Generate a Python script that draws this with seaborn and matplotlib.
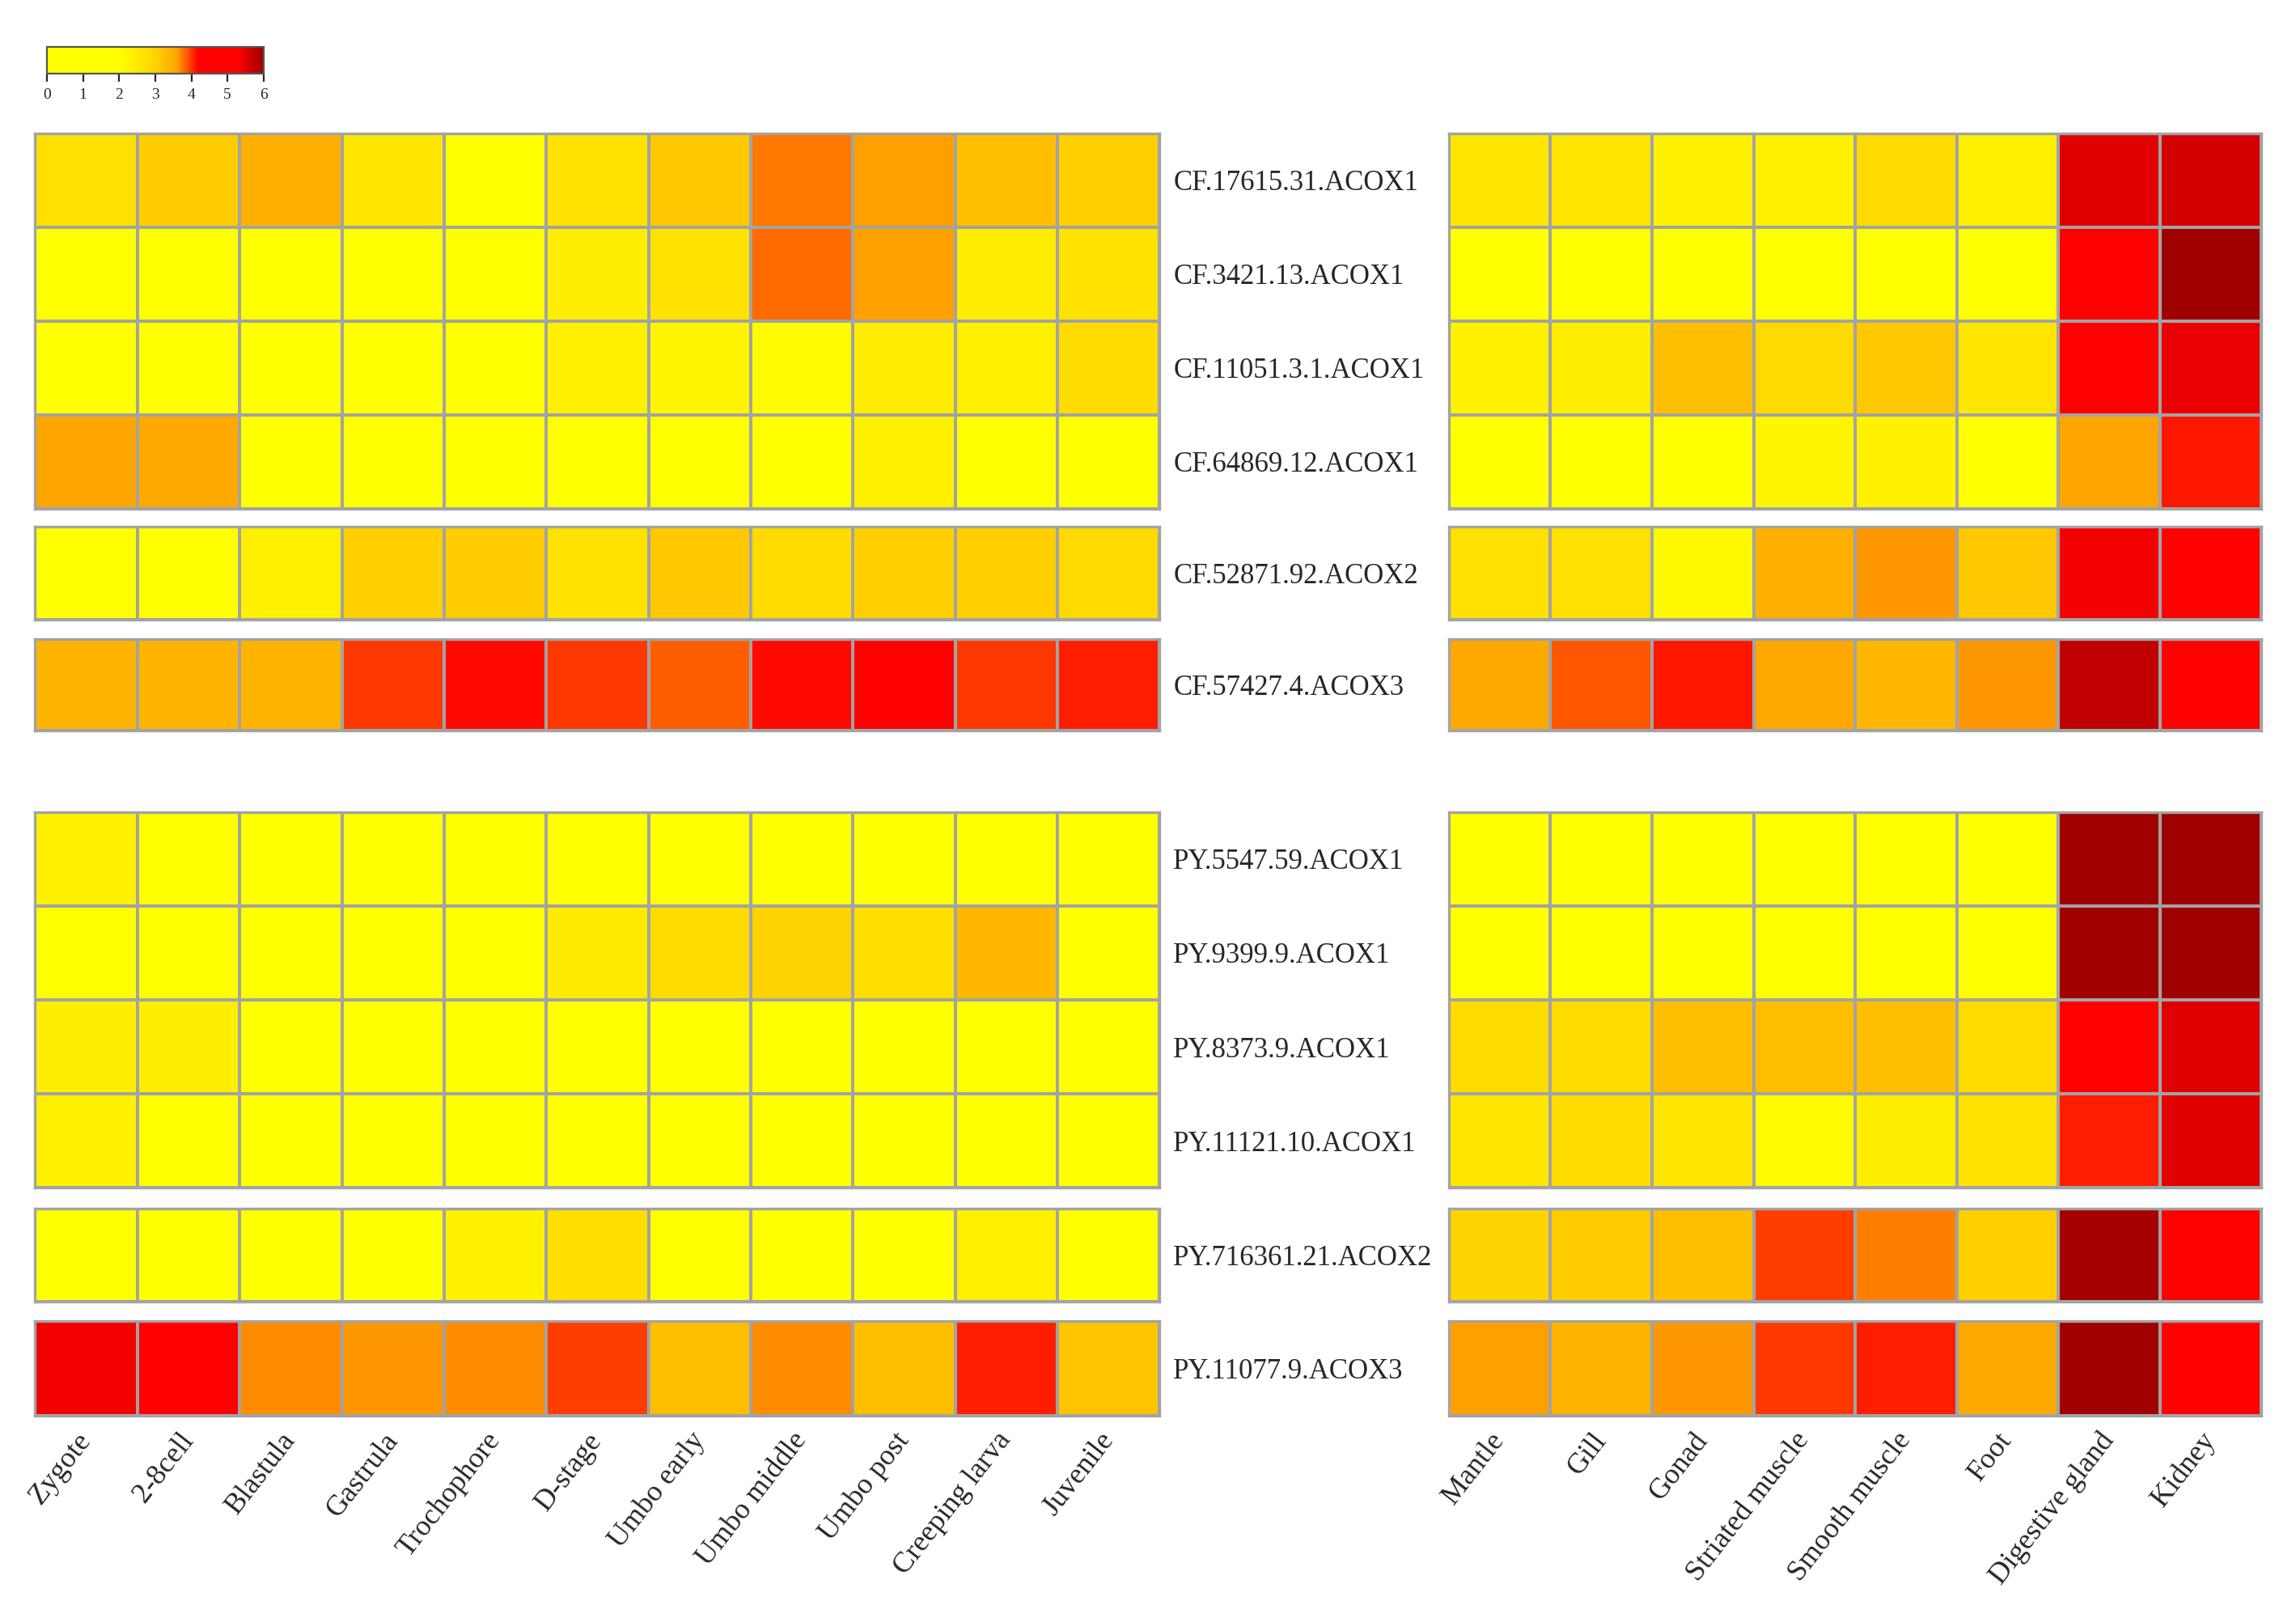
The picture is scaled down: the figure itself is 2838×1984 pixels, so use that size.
import numpy as np
import pandas as pd
import seaborn as sns
import matplotlib.pyplot as plt
from matplotlib.colors import LinearSegmentedColormap, Normalize

stages = ['Zygote', '2-8cell', 'Blastula', 'Gastrula', 'Trochophore', 'D-stage',
          'Umbo early', 'Umbo middle', 'Umbo post', 'Creeping larva', 'Juvenile']
tissues = ['Mantle', 'Gill', 'Gonad', 'Striated muscle', 'Smooth muscle', 'Foot',
           'Digestive gland', 'Kidney']

cf_genes = ['CF.17615.31.ACOX1', 'CF.3421.13.ACOX1', 'CF.11051.3.1.ACOX1',
            'CF.64869.12.ACOX1', 'CF.52871.92.ACOX2', 'CF.57427.4.ACOX3']
py_genes = ['PY.5547.59.ACOX1', 'PY.9399.9.ACOX1', 'PY.8373.9.ACOX1',
            'PY.11121.10.ACOX1', 'PY.716361.21.ACOX2', 'PY.11077.9.ACOX3']

# expression levels (0-6)
cf_stage = [
    [2.72, 3.10, 3.46, 2.58, 1.50, 2.68, 3.15, 3.75, 3.62, 3.26, 3.05],
    [1.20, 1.30, 1.10, 1.40, 1.50, 2.40, 2.68, 3.81, 3.62, 2.45, 2.68],
    [1.00, 1.20, 1.30, 1.50, 1.60, 2.35, 2.23, 2.10, 2.45, 2.35, 2.83],
    [3.60, 3.56, 1.00, 1.10, 1.30, 1.50, 1.40, 1.60, 2.35, 1.80, 1.50],
    [1.50, 1.70, 2.35, 3.05, 3.10, 2.68, 3.15, 2.83, 3.05, 3.05, 2.86],
    [3.40, 3.40, 3.40, 4.00, 4.16, 4.00, 3.85, 4.16, 4.50, 3.99, 4.10],
]
cf_tissue = [
    [2.58, 2.62, 2.30, 2.30, 2.86, 2.35, 5.53, 5.62],
    [1.20, 1.40, 1.30, 1.50, 1.60, 1.40, 5.00, 6.00],
    [2.30, 2.40, 3.26, 2.90, 3.15, 2.58, 5.10, 5.46],
    [1.00, 1.20, 1.50, 2.23, 2.30, 1.70, 3.60, 4.11],
    [2.72, 2.72, 2.15, 3.46, 3.64, 3.15, 5.39, 5.20],
    [3.56, 3.89, 4.12, 3.56, 3.36, 3.65, 5.76, 5.20],
]
py_stage = [
    [2.35, 1.90, 1.60, 1.50, 1.40, 1.30, 1.50, 1.60, 1.40, 1.70, 1.50],
    [1.20, 1.30, 1.50, 1.40, 1.60, 2.50, 2.83, 3.00, 2.78, 3.36, 1.60],
    [2.40, 2.40, 1.70, 1.50, 1.80, 1.40, 1.50, 1.30, 1.60, 1.70, 1.50],
    [2.35, 1.80, 1.60, 1.50, 1.40, 1.30, 1.40, 1.50, 1.60, 1.70, 1.80],
    [1.50, 1.60, 1.40, 1.70, 2.30, 2.78, 1.60, 1.50, 1.80, 2.35, 1.70],
    [5.37, 5.00, 3.69, 3.64, 3.70, 3.97, 3.28, 3.70, 3.26, 4.08, 3.20],
]
py_tissue = [
    [1.30, 1.50, 1.40, 1.60, 1.50, 1.20, 6.00, 6.00],
    [1.40, 1.20, 1.50, 1.30, 1.60, 1.40, 6.00, 6.00],
    [2.83, 2.83, 3.26, 3.30, 3.26, 2.83, 5.10, 5.53],
    [2.58, 2.83, 2.62, 2.10, 2.40, 2.68, 4.08, 5.51],
    [3.00, 3.10, 3.26, 3.97, 3.74, 3.05, 5.93, 5.30],
    [3.62, 3.40, 3.64, 3.99, 4.08, 3.55, 6.00, 5.20],
]

cmap = LinearSegmentedColormap.from_list('expr', [
    (0 / 6, '#FFFF00'), (2 / 6, '#FFFF00'), (3 / 6, '#FFD400'),
    (3.6 / 6, '#FFA500'), (4.2 / 6, '#FF0000'), (5.3 / 6, '#FF0000'),
    (1.0, '#A00000')])

sns.set_theme(style='white')
plt.rcParams['font.family'] = ['Liberation Serif', 'DejaVu Serif']

fig = plt.figure(figsize=(14.19, 9.92), dpi=200)

# block extents (top, bottom) in figure fractions, and which rows go in each
top_blocks = [(0.917, 0.683), (0.672, 0.614), (0.602, 0.545)]
bot_blocks = [(0.494, 0.260), (0.247, 0.189), (0.177, 0.118)]
row_slices = [(0, 4), (4, 5), (5, 6)]

left_x, left_w = 0.0153, 0.4898
right_x, right_w = 0.631, 0.354
grid_col = '#a3a3a3'

groups = [(cf_genes, cf_stage, cf_tissue, top_blocks, False),
          (py_genes, py_stage, py_tissue, bot_blocks, True)]

for genes, stage_vals, tissue_vals, blocks, last_group in groups:
    for k, ((top, bot), (r0, r1)) in enumerate(zip(blocks, row_slices)):
        show_x = last_group and k == 2
        # developmental stages
        ax = fig.add_axes([left_x, bot, left_w, top - bot])
        df = pd.DataFrame(stage_vals[r0:r1], index=genes[r0:r1], columns=stages)
        sns.heatmap(df, ax=ax, cmap=cmap, vmin=0, vmax=6, cbar=False,
                    linewidths=0.8, linecolor=grid_col)
        ax.yaxis.tick_right()
        ax.set_yticklabels(genes[r0:r1], rotation=0, ha='left', fontsize=12.5)
        ax.tick_params(axis='y', length=0, pad=6)
        if show_x:
            ax.set_xticklabels(stages, rotation=52, ha='right', va='center',
                               rotation_mode='anchor', fontsize=13)
            ax.tick_params(axis='x', length=0, pad=9)
        else:
            ax.set_xticks([])
        for s in ax.spines.values():
            s.set_visible(True)
            s.set_color(grid_col)
            s.set_linewidth(1.2)

        # adult tissues
        ax2 = fig.add_axes([right_x, bot, right_w, top - bot])
        df2 = pd.DataFrame(tissue_vals[r0:r1], index=genes[r0:r1], columns=tissues)
        sns.heatmap(df2, ax=ax2, cmap=cmap, vmin=0, vmax=6, cbar=False,
                    linewidths=0.8, linecolor=grid_col)
        ax2.set_yticks([])
        if show_x:
            ax2.set_xticklabels(tissues, rotation=52, ha='right', va='center',
                                rotation_mode='anchor', fontsize=13)
            ax2.tick_params(axis='x', length=0, pad=9)
        else:
            ax2.set_xticks([])
        for s in ax2.spines.values():
            s.set_visible(True)
            s.set_color(grid_col)
            s.set_linewidth(1.2)

# colour key
cax = fig.add_axes([0.0204, 0.954, 0.0944, 0.017])
sm = plt.cm.ScalarMappable(cmap=cmap, norm=Normalize(0, 6))
cb = fig.colorbar(sm, cax=cax, orientation='horizontal', ticks=range(7))
cb.ax.tick_params(labelsize=7, length=3.5, width=0.8, pad=3)
cb.outline.set_edgecolor('#555555')
cb.outline.set_linewidth(0.8)

fig.savefig('out.png', dpi=200, facecolor='white')
